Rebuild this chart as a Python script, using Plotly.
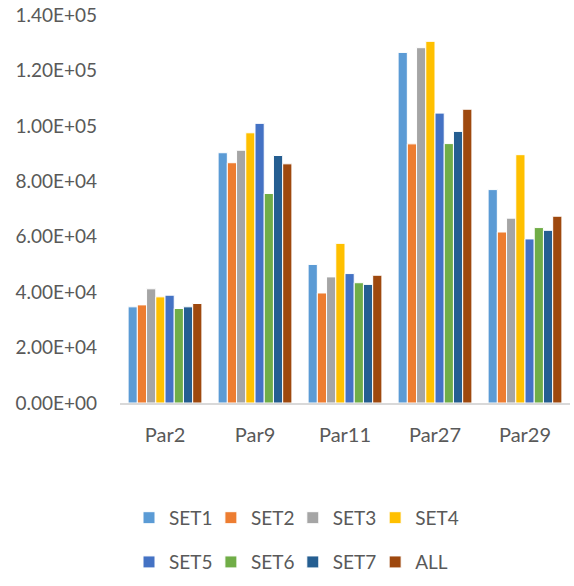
import plotly.graph_objects as go

# Parameter groups on the x axis
categories = ["Par2", "Par9", "Par11", "Par27", "Par29"]

# One series per data set
series_names = ["SET1", "SET2", "SET3", "SET4", "SET5", "SET6", "SET7", "ALL"]
set1 = [34700, 90300, 50000, 126500, 77000]
set2 = [35400, 86700, 39700, 93500, 61700]
set3 = [41200, 91200, 45500, 128200, 66700]
set4 = [38300, 97500, 57600, 130500, 89600]
set5 = [38900, 100900, 46700, 104600, 59200]
set6 = [34100, 75600, 43400, 93600, 63300]
set7 = [34700, 89300, 42800, 98000, 62300]
all_sets = [35900, 86300, 46100, 106000, 67400]
series_values = [set1, set2, set3, set4, set5, set6, set7, all_sets]

colors = ["#5B9BD5", "#ED7D31", "#A5A5A5", "#FFC000",
          "#4472C4", "#70AD47", "#255E91", "#9E480E"]

# Y axis ticks in Excel-style scientific notation
y_ticks = [0, 20000, 40000, 60000, 80000, 100000, 120000, 140000]
y_labels = [f"{v:.2E}" for v in y_ticks]

text_color = "#595959"
font_family = "Lato, Open Sans, sans-serif"

# Legend laid out as a 4-column grid: one legend box per entry
legend_cols_x = [0.02, 0.202, 0.384, 0.567]   # paper x of each column
legend_rows_y = [-0.296, -0.41]               # paper y of each row

fig = go.Figure()
legend_layout = {}
for i, (name, vals, col) in enumerate(zip(series_names, series_values, colors)):
    key = "legend" if i == 0 else f"legend{i + 1}"
    fig.add_trace(go.Bar(
        x=categories, y=vals, name=name,
        marker=dict(color=col, line=dict(color="white", width=1)),
        legend=key,
    ))
    legend_layout[key] = dict(
        x=legend_cols_x[i % 4], y=legend_rows_y[i // 4],
        xanchor="left", yanchor="middle",
        orientation="h",
        font=dict(size=19, color=text_color, family=font_family),
        bgcolor="rgba(0,0,0,0)",
        itemwidth=30,
    )

fig.update_layout(
    width=574, height=586,
    margin=dict(l=120, r=4, t=15, b=183),
    paper_bgcolor="white", plot_bgcolor="white",
    barmode="group", bargap=0.18, bargroupgap=0,
    font=dict(family=font_family, color=text_color, size=18),
    showlegend=True,
    xaxis=dict(
        showgrid=False, showline=True, linecolor="#D9D9D9", linewidth=2,
        ticks="", tickfont=dict(size=20, color=text_color),
        ticklabelstandoff=13,
    ),
    yaxis=dict(
        range=[0, 140000], tickvals=y_ticks, ticktext=y_labels,
        showgrid=False, zeroline=False, showline=False, ticks="",
        tickfont=dict(size=19, color=text_color), ticklabelstandoff=22,
    ),
    **legend_layout,
)

fig.write_html("out.html")
